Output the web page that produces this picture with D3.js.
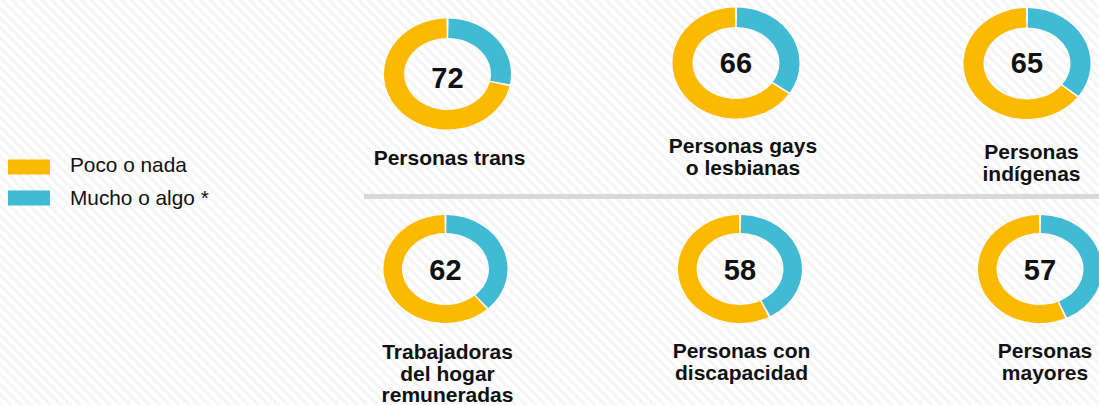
<!DOCTYPE html>
<html>
<head>
<meta charset="utf-8">
<script src="https://cdn.jsdelivr.net/npm/d3@7"></script>
<style>
  html, body { margin: 0; padding: 0; background: #fff; }
  svg { display: block; font-family: "Liberation Sans", Arial, sans-serif; }
  .num { font-weight: bold; font-size: 29px; fill: #111; }
  .lbl { font-weight: bold; font-size: 21px; fill: #111; }
  .leg { font-size: 20.8px; fill: #111; }
</style>
</head>
<body>
<div id="chart"></div>
<script>
// data
var categories = [
  ['Personas trans'],
  ['Personas gays', 'o lesbianas'],
  ['Personas', 'indígenas'],
  ['Trabajadoras', 'del hogar', 'remuneradas'],
  ['Personas con', 'discapacidad'],
  ['Personas', 'mayores']
];
var pocoNada = [72, 66, 65, 62, 58, 57];
var muchoAlgo = [28, 34, 35, 38, 42, 43];
var legendLabels = ['Poco o nada', 'Mucho o algo *'];

// layout (pixels)
var width = 1099, height = 405;
var colors = ['#fbb900', '#41bad4']; // poco, mucho
var cx = [447.5, 736, 1027, 445.5, 740, 1040];
var cy = [74, 63, 63.5, 269, 269, 269];
var numY = [87.5, 72.5, 73, 280, 279.5, 280];
var lblX = [449.5, 743, 1031.5, 447.5, 741.5, 1045];
var lblY = [165, 153, 159, 359, 358, 358];
var lineH = 21.5;
var ring = [
  { rxo: 63.5, ryo: 55.5, rxi: 43.5, ryi: 36 },
  { rxo: 62, ryo: 54, rxi: 43.5, ryi: 36 }
];

var svg = d3.select('#chart').append('svg')
  .attr('width', width)
  .attr('height', height);

// striped background
var defs = svg.append('defs');
var pat = defs.append('pattern')
  .attr('id', 'stripes')
  .attr('patternUnits', 'userSpaceOnUse')
  .attr('width', 7)
  .attr('height', 7)
  .attr('patternTransform', 'rotate(-45)');
pat.append('rect').attr('width', 7).attr('height', 7).attr('fill', '#ffffff');
pat.append('rect').attr('width', 3).attr('height', 7).attr('fill', '#f5f5f5');

svg.append('rect')
  .attr('width', width)
  .attr('height', height)
  .attr('fill', 'url(#stripes)');

// separator between rows
svg.append('rect')
  .attr('x', 364)
  .attr('y', 194)
  .attr('width', width - 364)
  .attr('height', 5)
  .attr('fill', '#d9d9d9');

// legend
var legend = svg.append('g').attr('class', 'legend');
legendLabels.forEach(function (t, i) {
  legend.append('rect')
    .attr('x', 8)
    .attr('y', 159.5 + i * 31)
    .attr('width', 42)
    .attr('height', 15)
    .attr('fill', colors[i]);
  legend.append('text')
    .attr('class', 'leg')
    .attr('x', 70)
    .attr('y', 172 + i * 32.5)
    .text(t);
});

// angle scale, percent -> radians
var angle = d3.scaleLinear().domain([0, 100]).range([0, 2 * Math.PI]);

var pie = d3.pie()
  .sort(null)
  .value(function (d) { return d.v; })
  .startAngle(0)
  .endAngle(angle(100))
  .padAngle(0.035);

// elliptical ring segment
function ellArc(d, r) {
  var a0 = d.startAngle + d.padAngle / 2,
    a1 = d.endAngle - d.padAngle / 2;
  var large = a1 - a0 > Math.PI ? 1 : 0;
  function pt(rx, ry, a) {
    return [rx * Math.sin(a), -ry * Math.cos(a)];
  }
  var o0 = pt(r.rxo, r.ryo, a0), o1 = pt(r.rxo, r.ryo, a1),
    i1 = pt(r.rxi, r.ryi, a1), i0 = pt(r.rxi, r.ryi, a0);
  return 'M' + o0 + 'A' + r.rxo + ',' + r.ryo + ' 0 ' + large + ' 1 ' + o1 +
    'L' + i1 + 'A' + r.rxi + ',' + r.ryi + ' 0 ' + large + ' 0 ' + i0 + 'Z';
}

categories.forEach(function (cat, i) {
  var r = ring[i < 3 ? 0 : 1];
  var g = svg.append('g')
    .attr('transform', 'translate(' + cx[i] + ',' + cy[i] + ')');

  g.selectAll('path')
    .data(pie([{ k: 1, v: muchoAlgo[i] }, { k: 0, v: pocoNada[i] }]))
    .enter()
    .append('path')
    .attr('d', function (d) { return ellArc(d, r); })
    .attr('fill', function (d) { return colors[d.data.k]; });

  svg.append('text')
    .attr('class', 'num')
    .attr('x', cx[i])
    .attr('y', numY[i])
    .attr('text-anchor', 'middle')
    .text(pocoNada[i]);

  var t = svg.append('text')
    .attr('class', 'lbl')
    .attr('text-anchor', 'middle');
  cat.forEach(function (line, j) {
    t.append('tspan')
      .attr('x', lblX[i])
      .attr('y', lblY[i] + j * lineH)
      .text(line);
  });
});
</script>
</body>
</html>
